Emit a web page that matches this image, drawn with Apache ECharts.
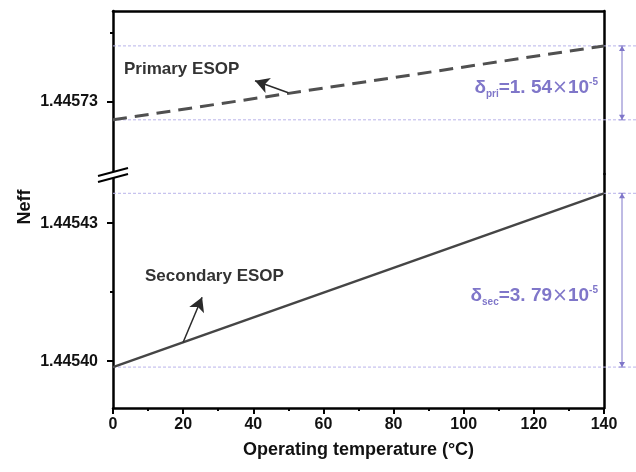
<!DOCTYPE html>
<html>
<head>
<meta charset="utf-8">
<script src="https://cdn.jsdelivr.net/npm/echarts@6/dist/echarts.min.js"></script>
<style>
  html, body { margin: 0; padding: 0; background: #fff; }
  #main { width: 636px; height: 472px; }
</style>
</head>
<body>
<div id="main"></div>
<script>
// data
var temps = [0, 140];
var primary = [1.4457261, 1.4457422];     // Primary ESOP (dashed)
var secondary = [1.4453987, 1.4454365];   // Secondary ESOP (solid)
var topTicks = [1.44573];
var topMinor = [1.445745];
var bottomTicks = [1.44540, 1.44543];
var bottomMinor = [1.445415];
var topRange = [1.4457143, 1.4457498];
var bottomRange = [1.4453898, 1.4454407];
var priArrow = [[50, 1.4457265 + 0.00000550], [40.5, 1.4457346]];
var secArrow = [[20, 1.4453987 + 0.00000541], [25.4, 1.4454139]];

var font = 'Liberation Sans, Arial, sans-serif';
var purple = '#7f76c9';
var guideColor = '#b9b4ea';

function pairs(xs, ys) {
  return xs.map(function (x, i) { return [x, ys[i]]; });
}

var chart = echarts.init(document.getElementById('main'));

var lineAxis = { show: true, lineStyle: { color: '#000', width: 2.5 } };
var noTick = { show: false };
var yLabel = { fontFamily: font, fontSize: 16, fontWeight: 'bold', color: '#111', margin: 15,
  formatter: function (v) { return v.toFixed(5); } };

var option = {
  animation: false,
  grid: [
    { left: 113, top: 11, width: 491, height: 163 },
    { left: 113, top: 174, width: 491, height: 234 }
  ],
  xAxis: [
    { gridIndex: 0, type: 'value', min: 0, max: 140, position: 'top',
      axisLine: lineAxis, axisTick: noTick, axisLabel: { show: false }, splitLine: { show: false } },
    { gridIndex: 1, type: 'value', min: 0, max: 140, interval: 20, position: 'bottom',
      axisLine: lineAxis,
      axisTick: { show: true, inside: false, length: 6, lineStyle: { color: '#000', width: 2 } },
      minorTick: { show: true, splitNumber: 2, length: 3, lineStyle: { color: '#000', width: 2 } },
      axisLabel: { fontFamily: font, fontSize: 16, fontWeight: 'bold', color: '#111', margin: 9 },
      splitLine: { show: false },
      name: 'Operating temperature (°C)', nameLocation: 'middle', nameGap: 33,
      nameTextStyle: { fontFamily: font, fontSize: 18, fontWeight: 'bold', color: '#111' } }
  ],
  yAxis: [
    { gridIndex: 0, type: 'value', min: topRange[0], max: topRange[1], position: 'left',
      axisLine: lineAxis,
      axisTick: { show: true, length: 6, customValues: topTicks, lineStyle: { color: '#000', width: 2 } },
      axisLabel: Object.assign({ customValues: topTicks }, yLabel),
      splitLine: { show: false } },
    { gridIndex: 0, type: 'value', min: topRange[0], max: topRange[1], position: 'left',
      axisLine: { show: false },
      axisTick: { show: true, length: 3, customValues: topMinor, lineStyle: { color: '#000', width: 2 } },
      axisLabel: { show: false }, splitLine: { show: false } },
    { gridIndex: 0, type: 'value', min: topRange[0], max: topRange[1], position: 'right',
      axisLine: lineAxis, axisTick: noTick, axisLabel: { show: false }, splitLine: { show: false } },
    { gridIndex: 1, type: 'value', min: bottomRange[0], max: bottomRange[1], position: 'left',
      axisLine: lineAxis,
      axisTick: { show: true, length: 6, customValues: bottomTicks, lineStyle: { color: '#000', width: 2 } },
      axisLabel: Object.assign({ customValues: bottomTicks }, yLabel),
      splitLine: { show: false } },
    { gridIndex: 1, type: 'value', min: bottomRange[0], max: bottomRange[1], position: 'left',
      axisLine: { show: false },
      axisTick: { show: true, length: 3, customValues: bottomMinor, lineStyle: { color: '#000', width: 2 } },
      axisLabel: { show: false }, splitLine: { show: false } },
    { gridIndex: 1, type: 'value', min: bottomRange[0], max: bottomRange[1], position: 'right',
      axisLine: lineAxis, axisTick: noTick, axisLabel: { show: false }, splitLine: { show: false } }
  ],
  series: [
    {
      name: 'Primary ESOP', type: 'line', xAxisIndex: 0, yAxisIndex: 0,
      data: pairs(temps, primary), symbol: 'none', z: 3,
      lineStyle: { color: '#505050', width: 3, type: [14, 8] },
      markLine: {
        silent: true, symbol: ['none', 'arrow'], symbolSize: [12, 14],
        lineStyle: { color: '#2a2a2a', width: 1.5, type: 'solid' }, label: { show: false },
        data: [[{ coord: priArrow[0] }, { coord: priArrow[1] }]]
      }
    },
    {
      name: 'Secondary ESOP', type: 'line', xAxisIndex: 1, yAxisIndex: 3,
      data: pairs(temps, secondary), symbol: 'none', z: 3,
      lineStyle: { color: '#454545', width: 2.5 },
      markLine: {
        silent: true, symbol: ['none', 'arrow'], symbolSize: [12, 14],
        lineStyle: { color: '#2a2a2a', width: 1.5, type: 'solid' }, label: { show: false },
        data: [[{ coord: secArrow[0] }, { coord: secArrow[1] }]]
      }
    }
  ]
};
chart.setOption(option);

// guide lines and delta brackets, placed from the data values
function py(axis, v) { return chart.convertToPixel({ yAxisIndex: axis }, v); }
var gPriTop = py(0, primary[1]), gPriBot = py(0, primary[0]);
var gSecTop = py(3, secondary[1]), gSecBot = py(3, secondary[0]);

var graphics = [];
[gPriTop, gPriBot, gSecTop, gSecBot].forEach(function (y) {
  graphics.push({ type: 'line', z: 1, shape: { x1: 113, y1: y, x2: 636, y2: y },
    style: { stroke: guideColor, lineWidth: 1, lineDash: [3, 2] } });
});
function bracket(y1, y2) {
  var x = 622;
  graphics.push({ type: 'line', shape: { x1: x, y1: y1, x2: x, y2: y2 }, style: { stroke: purple, lineWidth: 1 } });
  [[y1, 1], [y2, -1]].forEach(function (p) {
    var y = p[0], d = p[1];
    graphics.push({ type: 'line', shape: { x1: x - 3, y1: y, x2: x + 3, y2: y }, style: { stroke: purple, lineWidth: 1 } });
    graphics.push({ type: 'polygon', shape: { points: [[x, y], [x - 3, y + 5 * d], [x + 3, y + 5 * d]] }, style: { fill: purple } });
  });
}
bracket(gPriTop, gPriBot);
bracket(gSecTop, gSecBot);

function deltaText(sub, val, y) {
  return {
    type: 'text', right: 38, top: y - 13, z: 5,
    style: {
      text: '{d|δ}{s|' + sub + '}{d|=' + val + '}{x|×}{d|10}{p|-5}',
      rich: {
        d: { fontFamily: font, fontSize: 19, fontWeight: 'bold', fill: purple, lineHeight: 26 },
        x: { fontFamily: 'DejaVu Sans, sans-serif', fontSize: 19, fill: purple, lineHeight: 26 },
        s: { fontFamily: font, fontSize: 10, fontWeight: 'bold', fill: purple, lineHeight: 26, verticalAlign: 'bottom', padding: [0, 0, 2, 0] },
        p: { fontFamily: font, fontSize: 10, fontWeight: 'bold', fill: purple, lineHeight: 26, verticalAlign: 'top', padding: [2, 0, 0, 0] }
      }
    }
  };
}
graphics.push(deltaText('pri', '1. 54', 88));
graphics.push(deltaText('sec', '3. 79', 296));

graphics.push({ type: 'text', left: 124, top: 61, z: 5,
  style: { text: 'Primary ESOP', fontFamily: font, fontSize: 17, fontWeight: 'bold', fill: '#333' } });
graphics.push({ type: 'text', left: 145, top: 268, z: 5,
  style: { text: 'Secondary ESOP', fontFamily: font, fontSize: 17, fontWeight: 'bold', fill: '#333' } });

// axis break marks
graphics.push({ type: 'polygon', z: 10, shape: { points: [[98, 176], [128, 168], [128, 174], [98, 182]] }, style: { fill: '#fff' } });
graphics.push({ type: 'line', z: 11, shape: { x1: 98, y1: 176, x2: 128, y2: 168 }, style: { stroke: '#000', lineWidth: 2 } });
graphics.push({ type: 'line', z: 11, shape: { x1: 98, y1: 182, x2: 128, y2: 174 }, style: { stroke: '#000', lineWidth: 2 } });

// y axis name
graphics.push({ type: 'text', x: 25, y: 207, rotation: Math.PI / 2, z: 5,
  style: { text: 'Neff', fontFamily: font, fontSize: 18, fontWeight: 'bold', fill: '#111', align: 'center', verticalAlign: 'middle' } });

chart.setOption({ graphic: graphics });
</script>
</body>
</html>
